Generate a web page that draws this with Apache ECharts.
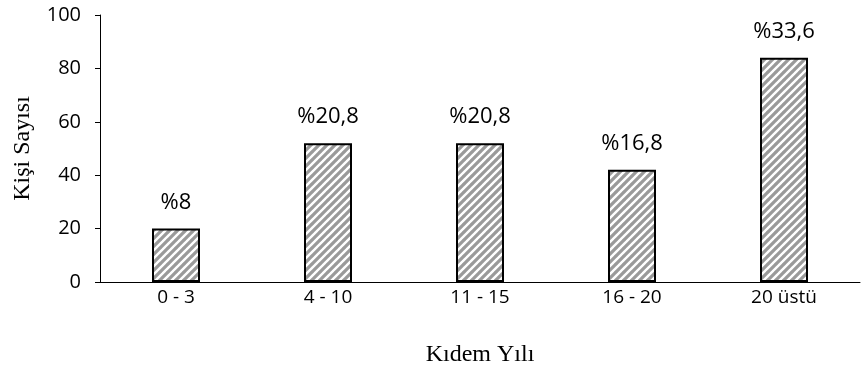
<!DOCTYPE html>
<html><head><meta charset="utf-8">
<script src="https://cdn.jsdelivr.net/npm/echarts@6/dist/echarts.min.js"></script>
<style>html,body{margin:0;padding:0;background:#fff}#c{width:861px;height:372px}</style>
</head><body><div id="c"></div>
<script>
const categories = ['0 - 3', '4 - 10', '11 - 15', '16 - 20', '20 üstü'];
const values = [20, 52, 52, 42, 84];
const labels = ['%8', '%20,8', '%20,8', '%16,8', '%33,6'];
const yTicks = [0, 20, 40, 60, 80, 100];

function makePattern() {
  const s = 8;
  const c = document.createElement('canvas');
  c.width = s; c.height = s;
  const ctx = c.getContext('2d');
  ctx.fillStyle = '#ffffff';
  ctx.fillRect(0, 0, s, s);
  ctx.strokeStyle = '#9a9a9a';
  ctx.lineWidth = 3.2;
  ctx.beginPath();
  for (let k = -1; k <= 1; k++) {
    ctx.moveTo(k * s - 1, s + 1);
    ctx.lineTo(k * s + s + 1, -1);
  }
  ctx.stroke();
  return c;
}

const chart = echarts.init(document.getElementById('c'), null, {renderer: 'canvas'});
chart.setOption({
  animation: false,
  grid: {left: 100, right: 1, top: 15, bottom: 89, containLabel: false},
  xAxis: {
    type: 'category', data: categories,
    axisLine: {lineStyle: {color: '#000', width: 1}},
    axisTick: {show: false},
    axisLabel: {color: '#000', fontSize: 19, fontFamily: 'Open Sans', margin: 6},
    name: 'Kıdem Yılı', nameLocation: 'middle', nameGap: 61,
    nameTextStyle: {color: '#000', fontSize: 24, fontFamily: 'Liberation Serif'}
  },
  yAxis: {
    type: 'value', min: yTicks[0], max: yTicks[yTicks.length - 1], interval: 20,
    axisLine: {show: true, lineStyle: {color: '#000', width: 1}},
    axisTick: {show: true, inside: false, length: 5, lineStyle: {color: '#000'}},
    splitLine: {show: false},
    axisLabel: {color: '#000', fontSize: 20, fontFamily: 'Open Sans', margin: 19},
    name: 'Kişi Sayısı', nameLocation: 'middle', nameGap: 65, nameRotate: 90,
    nameTextStyle: {color: '#000', fontSize: 24, fontFamily: 'Liberation Serif'}
  },
  series: [{
    type: 'bar', data: values, barWidth: 48,
    itemStyle: {color: {image: makePattern(), repeat: 'repeat'}, borderColor: '#000', borderWidth: 2},
    label: {
      show: true, position: 'top', distance: 15, color: '#000', fontSize: 22, fontFamily: 'Open Sans',
      formatter: p => labels[p.dataIndex]
    }
  }]
});
</script></body></html>
